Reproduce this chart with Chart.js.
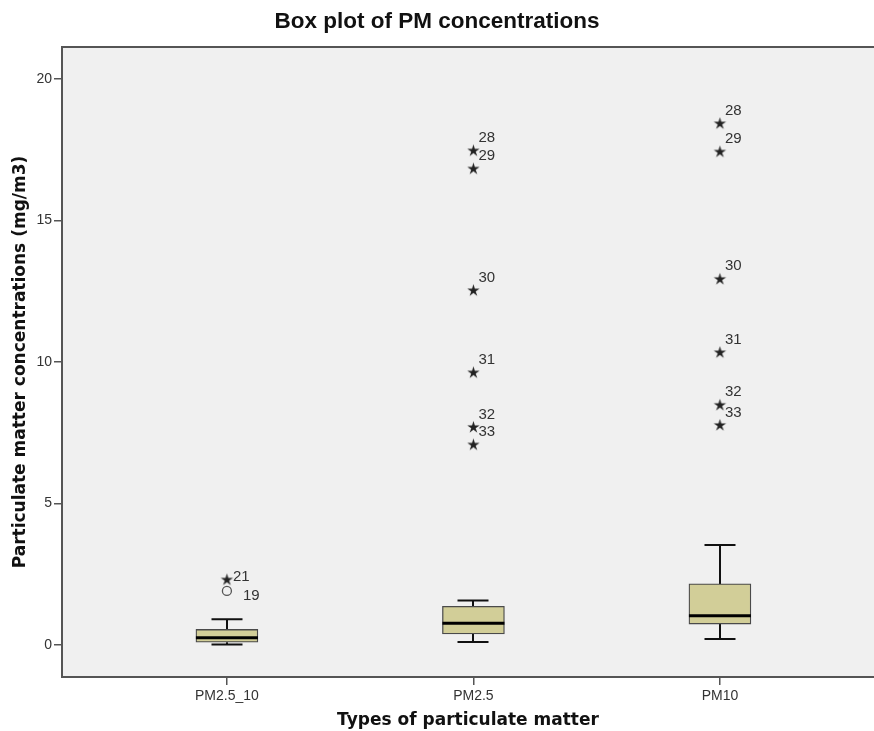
<!DOCTYPE html>
<html>
<head>
<meta charset="utf-8">
<title>Box plot of PM concentrations</title>
<script src="https://cdn.jsdelivr.net/npm/chart.js@4.4.1/dist/chart.umd.min.js"></script>
<style>
  html, body { margin: 0; padding: 0; background: #fff; }
  #wrap { width: 874px; height: 731px; }
</style>
</head>
<body>
<div id="wrap"><canvas id="chart" width="874" height="731"></canvas></div>
<script>
// categories and five-number summaries
const categories = ["PM2.5_10", "PM2.5", "PM10"];
const whiskerLow = [0.02, 0.11, 0.21];
const quartile1 = [0.10, 0.39, 0.74];
const medians = [0.26, 0.77, 1.03];
const quartile3 = [0.55, 1.37, 2.16];
const whiskerHigh = [0.91, 1.57, 3.53];

// extreme outliers (stars): category index, value, case label
const extremeCat = [0, 1, 1, 1, 1, 1, 1, 2, 2, 2, 2, 2, 2];
const extremeVal = [2.30, 17.46, 16.82, 12.52, 9.62, 7.69, 7.07, 18.42, 17.42, 12.92, 10.33, 8.47, 7.76];
const extremeLbl = ["21", "28", "29", "30", "31", "32", "33", "28", "29", "30", "31", "32", "33"];

// mild outliers (circles)
const mildCat = [0];
const mildVal = [1.91];
const mildLbl = ["19"];

const yTicks = [0, 5, 10, 15, 20];

(function () {
  const axisColor = "#555";
  const textColor = "#333";

  // label placement tweaks (pixels) where SPSS nudged labels apart
  const labelNudge = { "0-21": [6, -3], "0-19": [16, 5] };

  function makeStar(r, color) {
    const c = document.createElement("canvas");
    const s = Math.ceil(r * 2 + 2);
    c.width = s; c.height = s;
    const g = c.getContext("2d");
    g.translate(s / 2, s / 2);
    g.fillStyle = color;
    g.beginPath();
    for (let k = 0; k < 10; k++) {
      const a = -Math.PI / 2 + k * Math.PI / 5;
      const rr = (k % 2) ? r * 0.36 : r;
      g.lineTo(rr * Math.cos(a), rr * Math.sin(a));
    }
    g.closePath();
    g.fill();
    return c;
  }

  const bgPlugin = {
    id: "bg",
    beforeDraw(chart) {
      const { ctx, chartArea: a } = chart;
      ctx.save();
      ctx.fillStyle = "#fff";
      ctx.fillRect(0, 0, chart.width, chart.height);
      ctx.fillStyle = "#f0f0f0";
      ctx.fillRect(a.left, a.top, a.right - a.left, a.bottom - a.top);
      ctx.restore();
    },
    afterDraw(chart) {
      const { ctx, chartArea: a } = chart;
      ctx.save();
      ctx.strokeStyle = axisColor;
      ctx.lineWidth = 2;
      ctx.beginPath();
      ctx.moveTo(a.left - 1, a.top);
      ctx.lineTo(a.right, a.top);
      ctx.stroke();
      ctx.restore();
    }
  };

  const boxPlugin = {
    id: "boxparts",
    beforeDatasetsDraw(chart) {
      const { ctx, scales: { y } } = chart;
      const bars = chart.getDatasetMeta(0).data;
      ctx.save();
      ctx.strokeStyle = "#111";
      ctx.lineWidth = 2;
      bars.forEach((bar, i) => {
        const cx = Math.round(bar.x);
        const half = bar.width / 4;
        const lo = y.getPixelForValue(whiskerLow[i]);
        const hi = y.getPixelForValue(whiskerHigh[i]);
        const b = y.getPixelForValue(quartile1[i]);
        const t = y.getPixelForValue(quartile3[i]);
        ctx.beginPath();
        ctx.moveTo(cx, t); ctx.lineTo(cx, hi);
        ctx.moveTo(cx - half, hi); ctx.lineTo(cx + half, hi);
        ctx.moveTo(cx, b); ctx.lineTo(cx, lo);
        ctx.moveTo(cx - half, lo); ctx.lineTo(cx + half, lo);
        ctx.stroke();
      });
      ctx.restore();
    },
    afterDatasetsDraw(chart) {
      const { ctx, scales: { x, y } } = chart;
      const bars = chart.getDatasetMeta(0).data;
      ctx.save();
      ctx.strokeStyle = "#000";
      ctx.lineWidth = 3;
      bars.forEach((bar, i) => {
        const m = y.getPixelForValue(medians[i]);
        ctx.beginPath();
        ctx.moveTo(bar.x - bar.width / 2, m);
        ctx.lineTo(bar.x + bar.width / 2, m);
        ctx.stroke();
      });
      // case labels next to outliers
      ctx.fillStyle = textColor;
      ctx.font = "15px 'Liberation Sans', Arial, sans-serif";
      ctx.textAlign = "left";
      ctx.textBaseline = "middle";
      const put = (cats, vals, lbls) => {
        cats.forEach((c, k) => {
          const nudge = labelNudge[c + "-" + lbls[k]] || [5, -13];
          const px = x.getPixelForValue(c + 1);
          const py = y.getPixelForValue(vals[k]);
          ctx.fillText(lbls[k], px + nudge[0], py + nudge[1]);
        });
      };
      put(extremeCat, extremeVal, extremeLbl);
      put(mildCat, mildVal, mildLbl);
      ctx.restore();
    }
  };

  const star = makeStar(6.5, "#222");

  new Chart(document.getElementById("chart"), {
    type: "bar",
    data: {
      datasets: [
        {
          label: "box",
          data: categories.map((c, i) => ({ x: i + 1, y: [quartile1[i], quartile3[i]] })),
          backgroundColor: "#d2ce98",
          borderColor: "#4a4a4a",
          borderWidth: 1.3,
          borderSkipped: false,
          barThickness: 62
        },
        {
          type: "scatter",
          label: "extreme",
          data: extremeCat.map((c, k) => ({ x: c + 1, y: extremeVal[k] })),
          pointStyle: star,
          pointRadius: 6
        },
        {
          type: "scatter",
          label: "outlier",
          data: mildCat.map((c, k) => ({ x: c + 1, y: mildVal[k] })),
          pointStyle: "circle",
          pointRadius: 4.5,
          borderColor: "#555",
          borderWidth: 1.3,
          backgroundColor: "rgba(0,0,0,0)"
        }
      ]
    },
    options: {
      responsive: false,
      animation: false,
      events: [],
      layout: { padding: 0, autoPadding: false },
      plugins: {
        legend: { display: false },
        tooltip: { enabled: false },
        title: {
          display: true,
          text: "Box plot of PM concentrations",
          color: "#111",
          font: { family: "'Liberation Sans', Arial, sans-serif", size: 22.5, weight: "bold" },
          padding: { top: 8, bottom: 12 }
        }
      },
      scales: {
        x: {
          type: "linear",
          min: 0.331,
          max: 3.625,
          offset: false,
          afterFit: s => { s.height = 54; s.paddingLeft = 0; s.paddingRight = 0; },
          afterBuildTicks: s => { s.ticks = categories.map((c, i) => ({ value: i + 1 })); },
          ticks: {
            color: textColor,
            padding: 3,
            font: { family: "'Liberation Sans', Arial, sans-serif", size: 14 },
            callback: v => categories[Math.round(v) - 1]
          },
          grid: { display: true, offset: false, drawOnChartArea: false, drawTicks: true, tickLength: 8, color: axisColor, lineWidth: 1.5 },
          border: { display: true, color: axisColor, width: 2 },
          title: {
            display: true,
            text: "Types of particulate matter",
            color: "#111",
            font: { family: "'DejaVu Sans', sans-serif", size: 17, weight: "bold" },
            padding: { top: 0, bottom: 0 }
          }
        },
        y: {
          type: "linear",
          min: -1.13,
          max: 21.13,
          afterFit: s => { s.width = 62; s.paddingTop = 0; s.paddingBottom = 0; },
          afterBuildTicks: s => { s.ticks = yTicks.map(v => ({ value: v })); },
          ticks: {
            color: textColor,
            padding: 2,
            font: { family: "'Liberation Sans', Arial, sans-serif", size: 14 }
          },
          grid: { display: true, drawOnChartArea: false, drawTicks: true, tickLength: 8, color: axisColor, lineWidth: 1.5 },
          border: { display: true, color: axisColor, width: 2 },
          title: {
            display: true,
            text: "Particulate matter concentrations (mg/m3)",
            color: "#111",
            font: { family: "'DejaVu Sans', sans-serif", size: 17, weight: "bold" },
            padding: { top: 10, bottom: 0 }
          }
        }
      }
    },
    plugins: [bgPlugin, boxPlugin]
  });
})();
</script>
</body>
</html>
